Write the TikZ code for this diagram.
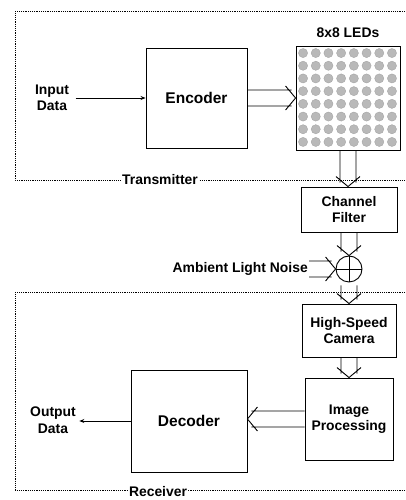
\documentclass[tikz,border=0pt]{standalone}
\usepackage{fontspec}
\setmainfont{Liberation Sans}
\usetikzlibrary{calc,arrows.meta}
\begin{document}
\begin{tikzpicture}[x=1pt,y=1pt,
  blk/.style={draw, line width=0.9pt, inner sep=0pt},
  big/.style={font=\fontsize{15.5}{18}\selectfont\bfseries},
  lbl/.style={font=\fontsize{13.9}{16.5}\selectfont\bfseries, align=center},
  frame/.style={line width=0.7pt, dash pattern=on 1.3pt off 0.9pt},
  flabel/.style={lbl, fill=white, inner sep=1pt},
  single/.style={line width=0.9pt, -{Stealth[length=5pt,width=4pt]}},
  dbl/.style={line width=0.9pt, to path={
    let \p1=(\tikztostart), \p2=(\tikztotarget),
        \n1={atan2(\y2-\y1,\x2-\x1)} in
    ($(\p1)+(\n1+90:8pt)$) -- ($(\p2)+(\n1+90:8pt)+(\n1:-4pt)$)
    ($(\p1)+(\n1-90:8pt)$) -- ($(\p2)+(\n1-90:8pt)+(\n1:-4pt)$)
    ($(\p2)+(\n1+90:12pt)+(\n1:-10pt)$) -- (\p2) -- ($(\p2)+(\n1-90:12pt)+(\n1:-10pt)$)
  }},
  led/.style={fill=gray!55, draw=gray!75, line width=0.3pt}
]
\useasboundingbox (0,0) rectangle (405,500);

% frames
\draw[frame] (405,489) -- (15,489) -- (15,320) -- (405,320);
\node[flabel] (tx) at (160,320) {Transmitter};
\draw[frame] (405,208) -- (15,208) -- (15,10) -- (405,10);
\node[flabel, anchor=base] (rx) at (158,4) {Receiver};

% transmitter
\node[lbl] (inp) at (52,402) {Input\\Data};
\node[blk, big, minimum width=101pt, minimum height=100pt] (enc) at (196.5,402) {Encoder};
\node[blk, minimum width=104pt, minimum height=104pt] (led) at (348,402) {};
\node[lbl] (ledlbl) at (348,467) {8x8 LEDs};
\foreach \i in {0,...,7}
  \foreach \j in {0,...,7}
    \fill[led] ($(led.north west)+(7.5+\i*12.7,-7.5-\j*12.7)$) circle (4.6pt);

% channel
\node[blk, lbl, minimum width=96pt, minimum height=45pt] (filt) at (349,290.5) {Channel\\Filter};
\node[draw, circle, line width=0.9pt, minimum size=26pt, inner sep=0pt] (circ) at (349,231) {};
\draw[line width=0.9pt] (circ.north) -- (circ.south) (circ.west) -- (circ.east);
\node[lbl, anchor=east, inner sep=1pt] (noise) at (309,231) {Ambient Light Noise};

% receiver
\node[blk, lbl, minimum width=94pt, minimum height=53pt] (cam) at (349,169.5) {High-Speed\\Camera};
\node[blk, lbl, minimum width=88pt, minimum height=82pt] (proc) at (349,81) {Image\\Processing};
\node[blk, big, minimum width=116pt, minimum height=102pt] (dec) at (189,79) {Decoder};
\node[lbl] (out) at (53,80) {Output\\Data};

% connectors
\draw[single, shorten <=3pt] (inp.east |- enc.west) -- (enc.west);
\draw[dbl] (enc.east) to (enc.east -| led.west);
\draw[dbl] (led.south) to (led.south |- filt.north);
\draw[dbl] (filt.south) to (circ.north);
\draw[dbl] (noise.east) to (circ.west);
\draw[dbl] ([yshift=-3pt]circ.south) to (cam.north);
\draw[dbl] (cam.south) to (proc.north);
\draw[dbl] (proc.west) to (proc.west -| dec.east);
\draw[single] (dec.west) -- (dec.west -| out.east);
\end{tikzpicture}
\end{document}
